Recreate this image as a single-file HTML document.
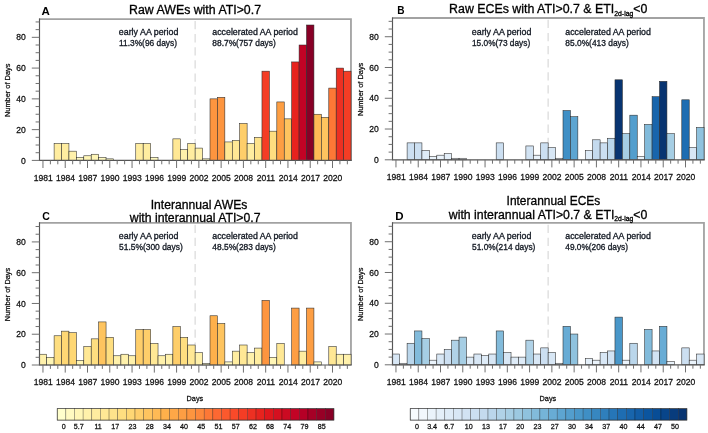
<!DOCTYPE html>
<html lang="en"><head><meta charset="utf-8"><title>AWEs and ECEs per year</title>
<style>
html,body{margin:0;padding:0;background:#fff}
svg{display:block;font-family:"Liberation Sans", sans-serif}
.tk{fill:#111;stroke:#111;stroke-width:.26px}
.tt{fill:#000;stroke:#000;stroke-width:.3px}
.an{font-size:8.7px;fill:#141a24;stroke:#141a24;stroke-width:.32px}
</style></head><body>
<svg width="708" height="433" viewBox="0 0 708 433">
<rect width="708" height="433" fill="#fff"/>
<line x1="195.15" y1="21.00" x2="195.15" y2="160.40" stroke="#dcdcdc" stroke-width="1.3" stroke-dasharray="8.3 4.8"/>
<path d="M39.00 19.20H350.96V160.40" fill="none" stroke="#a2a2a2" stroke-width="1.8" stroke-linejoin="miter"/>
<rect x="54.10" y="143.48" width="7.42" height="16.92" fill="#ffeda0" stroke="#2a2a2a" stroke-width="0.55"/>
<rect x="61.52" y="143.48" width="7.42" height="16.92" fill="#ffeda0" stroke="#2a2a2a" stroke-width="0.55"/>
<rect x="68.95" y="151.17" width="7.42" height="9.23" fill="#fff1ab" stroke="#2a2a2a" stroke-width="0.55"/>
<rect x="76.37" y="157.32" width="7.42" height="3.08" fill="#fffac1" stroke="#2a2a2a" stroke-width="0.55"/>
<rect x="83.79" y="155.78" width="7.42" height="4.62" fill="#fff6b6" stroke="#2a2a2a" stroke-width="0.55"/>
<rect x="91.22" y="154.25" width="7.42" height="6.15" fill="#fff6b6" stroke="#2a2a2a" stroke-width="0.55"/>
<rect x="98.64" y="157.32" width="7.42" height="3.08" fill="#fffac1" stroke="#2a2a2a" stroke-width="0.55"/>
<rect x="106.07" y="158.86" width="7.42" height="1.54" fill="#fffac1" stroke="#2a2a2a" stroke-width="0.55"/>
<rect x="135.76" y="143.48" width="7.42" height="16.92" fill="#ffeda0" stroke="#2a2a2a" stroke-width="0.55"/>
<rect x="143.19" y="143.48" width="7.42" height="16.92" fill="#ffeda0" stroke="#2a2a2a" stroke-width="0.55"/>
<rect x="150.61" y="157.32" width="7.42" height="3.08" fill="#fffac1" stroke="#2a2a2a" stroke-width="0.55"/>
<rect x="172.88" y="138.86" width="7.42" height="21.54" fill="#ffe895" stroke="#2a2a2a" stroke-width="0.55"/>
<rect x="180.31" y="149.63" width="7.42" height="10.77" fill="#fff1ab" stroke="#2a2a2a" stroke-width="0.55"/>
<rect x="187.73" y="143.48" width="7.42" height="16.92" fill="#ffeda0" stroke="#2a2a2a" stroke-width="0.55"/>
<rect x="195.15" y="148.09" width="7.42" height="12.31" fill="#fff1ab" stroke="#2a2a2a" stroke-width="0.55"/>
<rect x="202.58" y="158.86" width="7.42" height="1.54" fill="#fffac1" stroke="#2a2a2a" stroke-width="0.55"/>
<rect x="210.00" y="98.86" width="7.42" height="61.54" fill="#fd953f" stroke="#2a2a2a" stroke-width="0.55"/>
<rect x="217.43" y="97.32" width="7.42" height="63.08" fill="#fd953f" stroke="#2a2a2a" stroke-width="0.55"/>
<rect x="224.85" y="141.94" width="7.42" height="18.46" fill="#ffe895" stroke="#2a2a2a" stroke-width="0.55"/>
<rect x="232.27" y="140.40" width="7.42" height="20.00" fill="#ffe895" stroke="#2a2a2a" stroke-width="0.55"/>
<rect x="239.70" y="123.48" width="7.42" height="36.92" fill="#fece6a" stroke="#2a2a2a" stroke-width="0.55"/>
<rect x="247.12" y="143.48" width="7.42" height="16.92" fill="#ffeda0" stroke="#2a2a2a" stroke-width="0.55"/>
<rect x="254.55" y="137.32" width="7.42" height="23.08" fill="#fee38b" stroke="#2a2a2a" stroke-width="0.55"/>
<rect x="261.97" y="71.17" width="7.42" height="89.23" fill="#f43d25" stroke="#2a2a2a" stroke-width="0.55"/>
<rect x="269.39" y="131.17" width="7.42" height="29.23" fill="#fede80" stroke="#2a2a2a" stroke-width="0.55"/>
<rect x="276.82" y="101.94" width="7.42" height="58.46" fill="#fd9e43" stroke="#2a2a2a" stroke-width="0.55"/>
<rect x="284.24" y="118.86" width="7.42" height="41.54" fill="#fec45f" stroke="#2a2a2a" stroke-width="0.55"/>
<rect x="291.67" y="61.94" width="7.42" height="98.46" fill="#e7231e" stroke="#2a2a2a" stroke-width="0.55"/>
<rect x="299.09" y="45.01" width="7.42" height="115.39" fill="#c20325" stroke="#2a2a2a" stroke-width="0.55"/>
<rect x="306.51" y="25.01" width="7.42" height="135.39" fill="#880026" stroke="#2a2a2a" stroke-width="0.55"/>
<rect x="313.94" y="114.25" width="7.42" height="46.16" fill="#feba55" stroke="#2a2a2a" stroke-width="0.55"/>
<rect x="321.36" y="117.32" width="7.42" height="43.08" fill="#fec45f" stroke="#2a2a2a" stroke-width="0.55"/>
<rect x="328.79" y="88.09" width="7.42" height="72.31" fill="#fd7836" stroke="#2a2a2a" stroke-width="0.55"/>
<rect x="336.21" y="68.09" width="7.42" height="92.31" fill="#ed3022" stroke="#2a2a2a" stroke-width="0.55"/>
<rect x="343.63" y="71.17" width="7.42" height="89.23" fill="#f43d25" stroke="#2a2a2a" stroke-width="0.55"/>
<path d="M39.50 18.60V160.40H351.76" fill="none" stroke="#555" stroke-width="1.15"/>
<path d="M39.50 160.40h-7.7 M39.50 152.71h-3.9 M39.50 145.02h-3.9 M39.50 137.32h-3.9 M39.50 129.63h-7.7 M39.50 121.94h-3.9 M39.50 114.25h-3.9 M39.50 106.55h-3.9 M39.50 98.86h-7.7 M39.50 91.17h-3.9 M39.50 83.48h-3.9 M39.50 75.78h-3.9 M39.50 68.09h-7.7 M39.50 60.40h-3.9 M39.50 52.71h-3.9 M39.50 45.01h-3.9 M39.50 37.32h-7.7 M39.50 29.63h-3.9 M39.50 21.94h-3.9 M42.96 160.40v7.6 M50.39 160.40v3.9 M57.81 160.40v3.9 M65.23 160.40v7.6 M72.66 160.40v3.9 M80.08 160.40v3.9 M87.51 160.40v7.6 M94.93 160.40v3.9 M102.35 160.40v3.9 M109.78 160.40v7.6 M117.20 160.40v3.9 M124.63 160.40v3.9 M132.05 160.40v7.6 M139.47 160.40v3.9 M146.90 160.40v3.9 M154.32 160.40v7.6 M161.75 160.40v3.9 M169.17 160.40v3.9 M176.59 160.40v7.6 M184.02 160.40v3.9 M191.44 160.40v3.9 M198.87 160.40v7.6 M206.29 160.40v3.9 M213.71 160.40v3.9 M221.14 160.40v7.6 M228.56 160.40v3.9 M235.99 160.40v3.9 M243.41 160.40v7.6 M250.83 160.40v3.9 M258.26 160.40v3.9 M265.68 160.40v7.6 M273.11 160.40v3.9 M280.53 160.40v3.9 M287.95 160.40v7.6 M295.38 160.40v3.9 M302.80 160.40v3.9 M310.23 160.40v7.6 M317.65 160.40v3.9 M325.07 160.40v3.9 M332.50 160.40v7.6 M339.92 160.40v3.9 M347.35 160.40v3.9" stroke="#707070" stroke-width="1" fill="none"/>
<text class="tk" x="25.80" y="163.50" font-size="8.55" text-anchor="end">0</text>
<text class="tk" x="25.80" y="132.73" font-size="8.55" text-anchor="end">20</text>
<text class="tk" x="25.80" y="101.96" font-size="8.55" text-anchor="end">40</text>
<text class="tk" x="25.80" y="71.19" font-size="8.55" text-anchor="end">60</text>
<text class="tk" x="25.80" y="40.42" font-size="8.55" text-anchor="end">80</text>
<text class="tk" x="43.16" y="180.70" font-size="8.55" text-anchor="middle">1981</text>
<text class="tk" x="65.43" y="180.70" font-size="8.55" text-anchor="middle">1984</text>
<text class="tk" x="87.71" y="180.70" font-size="8.55" text-anchor="middle">1987</text>
<text class="tk" x="109.98" y="180.70" font-size="8.55" text-anchor="middle">1990</text>
<text class="tk" x="132.25" y="180.70" font-size="8.55" text-anchor="middle">1993</text>
<text class="tk" x="154.52" y="180.70" font-size="8.55" text-anchor="middle">1996</text>
<text class="tk" x="176.79" y="180.70" font-size="8.55" text-anchor="middle">1999</text>
<text class="tk" x="199.07" y="180.70" font-size="8.55" text-anchor="middle">2002</text>
<text class="tk" x="221.34" y="180.70" font-size="8.55" text-anchor="middle">2005</text>
<text class="tk" x="243.61" y="180.70" font-size="8.55" text-anchor="middle">2008</text>
<text class="tk" x="265.88" y="180.70" font-size="8.55" text-anchor="middle">2011</text>
<text class="tk" x="288.15" y="180.70" font-size="8.55" text-anchor="middle">2014</text>
<text class="tk" x="310.43" y="180.70" font-size="8.55" text-anchor="middle">2017</text>
<text class="tk" x="332.70" y="180.70" font-size="8.55" text-anchor="middle">2020</text>
<text class="tk" transform="translate(10.10 90.30) rotate(-90)" font-size="7.5" text-anchor="middle" textLength="53.4" lengthAdjust="spacingAndGlyphs">Number of Days</text>
<text x="41.6" y="14.7" font-size="11.5" font-weight="bold" fill="#000">A</text>
<text class="tt" x="129.10" y="14.1" font-size="12.3" textLength="131.9" lengthAdjust="spacingAndGlyphs">Raw AWEs with ATI&gt;0.7</text>
<text class="an" x="118.80" y="34.9" textLength="59.6" lengthAdjust="spacingAndGlyphs">early AA period</text>
<text class="an" x="119.00" y="46.0" textLength="58.0" lengthAdjust="spacingAndGlyphs">11.3%(96 days)</text>
<text class="an" x="212.30" y="34.9" textLength="85.6" lengthAdjust="spacingAndGlyphs">accelerated AA period</text>
<text class="an" x="212.30" y="46.0" textLength="63.5" lengthAdjust="spacingAndGlyphs">88.7%(757 days)</text>
<line x1="548.15" y1="19.80" x2="548.15" y2="159.80" stroke="#dcdcdc" stroke-width="1.3" stroke-dasharray="8.3 4.8"/>
<path d="M392.00 18.00H703.96V159.80" fill="none" stroke="#a2a2a2" stroke-width="1.8" stroke-linejoin="miter"/>
<rect x="407.10" y="142.88" width="7.42" height="16.92" fill="#ccdff1" stroke="#2a2a2a" stroke-width="0.55"/>
<rect x="414.52" y="142.88" width="7.42" height="16.92" fill="#ccdff1" stroke="#2a2a2a" stroke-width="0.55"/>
<rect x="421.95" y="150.57" width="7.42" height="9.23" fill="#deebf7" stroke="#2a2a2a" stroke-width="0.55"/>
<rect x="429.37" y="156.72" width="7.42" height="3.08" fill="#eaf3fb" stroke="#2a2a2a" stroke-width="0.55"/>
<rect x="436.79" y="155.18" width="7.42" height="4.62" fill="#eaf3fb" stroke="#2a2a2a" stroke-width="0.55"/>
<rect x="444.22" y="153.65" width="7.42" height="6.15" fill="#e4eff9" stroke="#2a2a2a" stroke-width="0.55"/>
<rect x="451.64" y="158.26" width="7.42" height="1.54" fill="#f1f7fd" stroke="#2a2a2a" stroke-width="0.55"/>
<rect x="459.07" y="158.26" width="7.42" height="1.54" fill="#f1f7fd" stroke="#2a2a2a" stroke-width="0.55"/>
<rect x="496.19" y="142.88" width="7.42" height="16.92" fill="#ccdff1" stroke="#2a2a2a" stroke-width="0.55"/>
<rect x="525.88" y="145.95" width="7.42" height="13.85" fill="#d2e3f3" stroke="#2a2a2a" stroke-width="0.55"/>
<rect x="533.31" y="155.18" width="7.42" height="4.62" fill="#eaf3fb" stroke="#2a2a2a" stroke-width="0.55"/>
<rect x="540.73" y="142.88" width="7.42" height="16.92" fill="#ccdff1" stroke="#2a2a2a" stroke-width="0.55"/>
<rect x="548.15" y="147.49" width="7.42" height="12.31" fill="#d8e7f5" stroke="#2a2a2a" stroke-width="0.55"/>
<rect x="555.58" y="158.26" width="7.42" height="1.54" fill="#f1f7fd" stroke="#2a2a2a" stroke-width="0.55"/>
<rect x="563.00" y="110.57" width="7.42" height="49.23" fill="#3f8fc5" stroke="#2a2a2a" stroke-width="0.55"/>
<rect x="570.43" y="116.72" width="7.42" height="43.08" fill="#5da5d1" stroke="#2a2a2a" stroke-width="0.55"/>
<rect x="585.27" y="150.57" width="7.42" height="9.23" fill="#deebf7" stroke="#2a2a2a" stroke-width="0.55"/>
<rect x="592.70" y="139.80" width="7.42" height="20.00" fill="#c4daee" stroke="#2a2a2a" stroke-width="0.55"/>
<rect x="600.12" y="142.88" width="7.42" height="16.92" fill="#ccdff1" stroke="#2a2a2a" stroke-width="0.55"/>
<rect x="607.55" y="138.26" width="7.42" height="21.54" fill="#bad6eb" stroke="#2a2a2a" stroke-width="0.55"/>
<rect x="614.97" y="79.80" width="7.42" height="80.00" fill="#083471" stroke="#2a2a2a" stroke-width="0.55"/>
<rect x="622.39" y="133.65" width="7.42" height="26.15" fill="#a6cee4" stroke="#2a2a2a" stroke-width="0.55"/>
<rect x="629.82" y="115.18" width="7.42" height="44.62" fill="#539ecd" stroke="#2a2a2a" stroke-width="0.55"/>
<rect x="637.24" y="156.72" width="7.42" height="3.08" fill="#eaf3fb" stroke="#2a2a2a" stroke-width="0.55"/>
<rect x="644.67" y="124.41" width="7.42" height="35.39" fill="#82bbdb" stroke="#2a2a2a" stroke-width="0.55"/>
<rect x="652.09" y="96.72" width="7.42" height="63.08" fill="#1865ac" stroke="#2a2a2a" stroke-width="0.55"/>
<rect x="659.51" y="81.34" width="7.42" height="78.46" fill="#083471" stroke="#2a2a2a" stroke-width="0.55"/>
<rect x="666.94" y="133.65" width="7.42" height="26.15" fill="#a6cee4" stroke="#2a2a2a" stroke-width="0.55"/>
<rect x="681.79" y="99.80" width="7.42" height="60.00" fill="#1e6db2" stroke="#2a2a2a" stroke-width="0.55"/>
<rect x="689.21" y="147.49" width="7.42" height="12.31" fill="#d8e7f5" stroke="#2a2a2a" stroke-width="0.55"/>
<rect x="696.63" y="127.49" width="7.42" height="32.31" fill="#8fc2de" stroke="#2a2a2a" stroke-width="0.55"/>
<path d="M392.50 17.40V159.80H704.76" fill="none" stroke="#555" stroke-width="1.15"/>
<path d="M392.50 159.80h-7.7 M392.50 152.11h-3.9 M392.50 144.42h-3.9 M392.50 136.72h-3.9 M392.50 129.03h-7.7 M392.50 121.34h-3.9 M392.50 113.65h-3.9 M392.50 105.95h-3.9 M392.50 98.26h-7.7 M392.50 90.57h-3.9 M392.50 82.88h-3.9 M392.50 75.18h-3.9 M392.50 67.49h-7.7 M392.50 59.80h-3.9 M392.50 52.11h-3.9 M392.50 44.41h-3.9 M392.50 36.72h-7.7 M392.50 29.03h-3.9 M392.50 21.34h-3.9 M395.96 159.80v7.6 M403.39 159.80v3.9 M410.81 159.80v3.9 M418.23 159.80v7.6 M425.66 159.80v3.9 M433.08 159.80v3.9 M440.51 159.80v7.6 M447.93 159.80v3.9 M455.35 159.80v3.9 M462.78 159.80v7.6 M470.20 159.80v3.9 M477.63 159.80v3.9 M485.05 159.80v7.6 M492.47 159.80v3.9 M499.90 159.80v3.9 M507.32 159.80v7.6 M514.75 159.80v3.9 M522.17 159.80v3.9 M529.59 159.80v7.6 M537.02 159.80v3.9 M544.44 159.80v3.9 M551.87 159.80v7.6 M559.29 159.80v3.9 M566.71 159.80v3.9 M574.14 159.80v7.6 M581.56 159.80v3.9 M588.99 159.80v3.9 M596.41 159.80v7.6 M603.83 159.80v3.9 M611.26 159.80v3.9 M618.68 159.80v7.6 M626.11 159.80v3.9 M633.53 159.80v3.9 M640.95 159.80v7.6 M648.38 159.80v3.9 M655.80 159.80v3.9 M663.23 159.80v7.6 M670.65 159.80v3.9 M678.07 159.80v3.9 M685.50 159.80v7.6 M692.92 159.80v3.9 M700.35 159.80v3.9" stroke="#707070" stroke-width="1" fill="none"/>
<text class="tk" x="378.80" y="162.90" font-size="8.55" text-anchor="end">0</text>
<text class="tk" x="378.80" y="132.13" font-size="8.55" text-anchor="end">20</text>
<text class="tk" x="378.80" y="101.36" font-size="8.55" text-anchor="end">40</text>
<text class="tk" x="378.80" y="70.59" font-size="8.55" text-anchor="end">60</text>
<text class="tk" x="378.80" y="39.82" font-size="8.55" text-anchor="end">80</text>
<text class="tk" x="396.16" y="180.10" font-size="8.55" text-anchor="middle">1981</text>
<text class="tk" x="418.43" y="180.10" font-size="8.55" text-anchor="middle">1984</text>
<text class="tk" x="440.71" y="180.10" font-size="8.55" text-anchor="middle">1987</text>
<text class="tk" x="462.98" y="180.10" font-size="8.55" text-anchor="middle">1990</text>
<text class="tk" x="485.25" y="180.10" font-size="8.55" text-anchor="middle">1993</text>
<text class="tk" x="507.52" y="180.10" font-size="8.55" text-anchor="middle">1996</text>
<text class="tk" x="529.79" y="180.10" font-size="8.55" text-anchor="middle">1999</text>
<text class="tk" x="552.07" y="180.10" font-size="8.55" text-anchor="middle">2002</text>
<text class="tk" x="574.34" y="180.10" font-size="8.55" text-anchor="middle">2005</text>
<text class="tk" x="596.61" y="180.10" font-size="8.55" text-anchor="middle">2008</text>
<text class="tk" x="618.88" y="180.10" font-size="8.55" text-anchor="middle">2011</text>
<text class="tk" x="641.15" y="180.10" font-size="8.55" text-anchor="middle">2014</text>
<text class="tk" x="663.43" y="180.10" font-size="8.55" text-anchor="middle">2017</text>
<text class="tk" x="685.70" y="180.10" font-size="8.55" text-anchor="middle">2020</text>
<text class="tk" transform="translate(363.10 89.40) rotate(-90)" font-size="7.5" text-anchor="middle" textLength="53.4" lengthAdjust="spacingAndGlyphs">Number of Days</text>
<text x="397.3" y="14.4" font-size="11.5" font-weight="bold" fill="#000" textLength="7.3" lengthAdjust="spacingAndGlyphs">B</text>
<text class="tt" x="449.10" y="13.2" font-size="12.3" textLength="198.3" lengthAdjust="spacingAndGlyphs">Raw ECEs with ATI&gt;0.7 &amp; ETI<tspan font-size="6.8" dy="2.4">2d-lag</tspan><tspan dy="-2.4">&lt;0</tspan></text>
<text class="an" x="471.80" y="34.9" textLength="59.6" lengthAdjust="spacingAndGlyphs">early AA period</text>
<text class="an" x="472.00" y="46.0" textLength="58.2" lengthAdjust="spacingAndGlyphs">15.0%(73 days)</text>
<text class="an" x="565.30" y="34.9" textLength="85.6" lengthAdjust="spacingAndGlyphs">accelerated AA period</text>
<text class="an" x="565.30" y="46.0" textLength="63.5" lengthAdjust="spacingAndGlyphs">85.0%(413 days)</text>
<line x1="195.15" y1="224.70" x2="195.15" y2="365.00" stroke="#dcdcdc" stroke-width="1.3" stroke-dasharray="8.3 4.8"/>
<path d="M39.00 222.90H350.96V365.00" fill="none" stroke="#a2a2a2" stroke-width="1.8" stroke-linejoin="miter"/>
<rect x="39.25" y="354.23" width="7.42" height="10.77" fill="#fff1ab" stroke="#2a2a2a" stroke-width="0.55"/>
<rect x="46.67" y="357.31" width="7.42" height="7.69" fill="#fff6b6" stroke="#2a2a2a" stroke-width="0.55"/>
<rect x="54.10" y="335.77" width="7.42" height="29.23" fill="#fede80" stroke="#2a2a2a" stroke-width="0.55"/>
<rect x="61.52" y="331.15" width="7.42" height="33.85" fill="#fed774" stroke="#2a2a2a" stroke-width="0.55"/>
<rect x="68.95" y="332.69" width="7.42" height="32.31" fill="#fed774" stroke="#2a2a2a" stroke-width="0.55"/>
<rect x="76.37" y="360.38" width="7.42" height="4.62" fill="#fff6b6" stroke="#2a2a2a" stroke-width="0.55"/>
<rect x="83.79" y="346.54" width="7.42" height="18.46" fill="#ffe895" stroke="#2a2a2a" stroke-width="0.55"/>
<rect x="91.22" y="338.85" width="7.42" height="26.15" fill="#fede80" stroke="#2a2a2a" stroke-width="0.55"/>
<rect x="98.64" y="321.92" width="7.42" height="43.08" fill="#fec45f" stroke="#2a2a2a" stroke-width="0.55"/>
<rect x="106.07" y="337.31" width="7.42" height="27.69" fill="#fede80" stroke="#2a2a2a" stroke-width="0.55"/>
<rect x="113.49" y="355.77" width="7.42" height="9.23" fill="#fff1ab" stroke="#2a2a2a" stroke-width="0.55"/>
<rect x="120.91" y="354.23" width="7.42" height="10.77" fill="#fff1ab" stroke="#2a2a2a" stroke-width="0.55"/>
<rect x="128.34" y="355.77" width="7.42" height="9.23" fill="#fff1ab" stroke="#2a2a2a" stroke-width="0.55"/>
<rect x="135.76" y="329.61" width="7.42" height="35.39" fill="#fece6a" stroke="#2a2a2a" stroke-width="0.55"/>
<rect x="143.19" y="329.61" width="7.42" height="35.39" fill="#fece6a" stroke="#2a2a2a" stroke-width="0.55"/>
<rect x="150.61" y="343.46" width="7.42" height="21.54" fill="#ffe895" stroke="#2a2a2a" stroke-width="0.55"/>
<rect x="158.03" y="355.77" width="7.42" height="9.23" fill="#fff1ab" stroke="#2a2a2a" stroke-width="0.55"/>
<rect x="165.46" y="354.23" width="7.42" height="10.77" fill="#fff1ab" stroke="#2a2a2a" stroke-width="0.55"/>
<rect x="172.88" y="326.54" width="7.42" height="38.46" fill="#fece6a" stroke="#2a2a2a" stroke-width="0.55"/>
<rect x="180.31" y="337.31" width="7.42" height="27.69" fill="#fede80" stroke="#2a2a2a" stroke-width="0.55"/>
<rect x="187.73" y="345.00" width="7.42" height="20.00" fill="#ffe895" stroke="#2a2a2a" stroke-width="0.55"/>
<rect x="195.15" y="352.69" width="7.42" height="12.31" fill="#fff1ab" stroke="#2a2a2a" stroke-width="0.55"/>
<rect x="202.58" y="363.46" width="7.42" height="1.54" fill="#fffac1" stroke="#2a2a2a" stroke-width="0.55"/>
<rect x="210.00" y="315.77" width="7.42" height="49.23" fill="#feb04b" stroke="#2a2a2a" stroke-width="0.55"/>
<rect x="217.43" y="323.46" width="7.42" height="41.54" fill="#fec45f" stroke="#2a2a2a" stroke-width="0.55"/>
<rect x="224.85" y="361.92" width="7.42" height="3.08" fill="#fffac1" stroke="#2a2a2a" stroke-width="0.55"/>
<rect x="232.27" y="351.15" width="7.42" height="13.85" fill="#ffeda0" stroke="#2a2a2a" stroke-width="0.55"/>
<rect x="239.70" y="345.00" width="7.42" height="20.00" fill="#ffe895" stroke="#2a2a2a" stroke-width="0.55"/>
<rect x="247.12" y="352.69" width="7.42" height="12.31" fill="#fff1ab" stroke="#2a2a2a" stroke-width="0.55"/>
<rect x="254.55" y="348.08" width="7.42" height="16.92" fill="#ffeda0" stroke="#2a2a2a" stroke-width="0.55"/>
<rect x="261.97" y="300.38" width="7.42" height="64.62" fill="#fd953f" stroke="#2a2a2a" stroke-width="0.55"/>
<rect x="269.39" y="357.31" width="7.42" height="7.69" fill="#fff6b6" stroke="#2a2a2a" stroke-width="0.55"/>
<rect x="276.82" y="343.46" width="7.42" height="21.54" fill="#ffe895" stroke="#2a2a2a" stroke-width="0.55"/>
<rect x="291.67" y="308.08" width="7.42" height="56.92" fill="#fd9e43" stroke="#2a2a2a" stroke-width="0.55"/>
<rect x="299.09" y="351.15" width="7.42" height="13.85" fill="#ffeda0" stroke="#2a2a2a" stroke-width="0.55"/>
<rect x="306.51" y="308.08" width="7.42" height="56.92" fill="#fd9e43" stroke="#2a2a2a" stroke-width="0.55"/>
<rect x="313.94" y="361.92" width="7.42" height="3.08" fill="#fffac1" stroke="#2a2a2a" stroke-width="0.55"/>
<rect x="328.79" y="346.54" width="7.42" height="18.46" fill="#ffe895" stroke="#2a2a2a" stroke-width="0.55"/>
<rect x="336.21" y="354.23" width="7.42" height="10.77" fill="#fff1ab" stroke="#2a2a2a" stroke-width="0.55"/>
<rect x="343.63" y="354.23" width="7.42" height="10.77" fill="#fff1ab" stroke="#2a2a2a" stroke-width="0.55"/>
<path d="M39.50 222.30V365.00H351.76" fill="none" stroke="#555" stroke-width="1.15"/>
<path d="M39.50 365.00h-7.7 M39.50 357.31h-3.9 M39.50 349.62h-3.9 M39.50 341.92h-3.9 M39.50 334.23h-7.7 M39.50 326.54h-3.9 M39.50 318.85h-3.9 M39.50 311.15h-3.9 M39.50 303.46h-7.7 M39.50 295.77h-3.9 M39.50 288.07h-3.9 M39.50 280.38h-3.9 M39.50 272.69h-7.7 M39.50 265.00h-3.9 M39.50 257.31h-3.9 M39.50 249.61h-3.9 M39.50 241.92h-7.7 M39.50 234.23h-3.9 M39.50 226.53h-3.9 M42.96 365.00v7.6 M50.39 365.00v3.9 M57.81 365.00v3.9 M65.23 365.00v7.6 M72.66 365.00v3.9 M80.08 365.00v3.9 M87.51 365.00v7.6 M94.93 365.00v3.9 M102.35 365.00v3.9 M109.78 365.00v7.6 M117.20 365.00v3.9 M124.63 365.00v3.9 M132.05 365.00v7.6 M139.47 365.00v3.9 M146.90 365.00v3.9 M154.32 365.00v7.6 M161.75 365.00v3.9 M169.17 365.00v3.9 M176.59 365.00v7.6 M184.02 365.00v3.9 M191.44 365.00v3.9 M198.87 365.00v7.6 M206.29 365.00v3.9 M213.71 365.00v3.9 M221.14 365.00v7.6 M228.56 365.00v3.9 M235.99 365.00v3.9 M243.41 365.00v7.6 M250.83 365.00v3.9 M258.26 365.00v3.9 M265.68 365.00v7.6 M273.11 365.00v3.9 M280.53 365.00v3.9 M287.95 365.00v7.6 M295.38 365.00v3.9 M302.80 365.00v3.9 M310.23 365.00v7.6 M317.65 365.00v3.9 M325.07 365.00v3.9 M332.50 365.00v7.6 M339.92 365.00v3.9 M347.35 365.00v3.9" stroke="#707070" stroke-width="1" fill="none"/>
<text class="tk" x="25.80" y="368.10" font-size="8.55" text-anchor="end">0</text>
<text class="tk" x="25.80" y="337.33" font-size="8.55" text-anchor="end">20</text>
<text class="tk" x="25.80" y="306.56" font-size="8.55" text-anchor="end">40</text>
<text class="tk" x="25.80" y="275.79" font-size="8.55" text-anchor="end">60</text>
<text class="tk" x="25.80" y="245.02" font-size="8.55" text-anchor="end">80</text>
<text class="tk" x="43.16" y="385.30" font-size="8.55" text-anchor="middle">1981</text>
<text class="tk" x="65.43" y="385.30" font-size="8.55" text-anchor="middle">1984</text>
<text class="tk" x="87.71" y="385.30" font-size="8.55" text-anchor="middle">1987</text>
<text class="tk" x="109.98" y="385.30" font-size="8.55" text-anchor="middle">1990</text>
<text class="tk" x="132.25" y="385.30" font-size="8.55" text-anchor="middle">1993</text>
<text class="tk" x="154.52" y="385.30" font-size="8.55" text-anchor="middle">1996</text>
<text class="tk" x="176.79" y="385.30" font-size="8.55" text-anchor="middle">1999</text>
<text class="tk" x="199.07" y="385.30" font-size="8.55" text-anchor="middle">2002</text>
<text class="tk" x="221.34" y="385.30" font-size="8.55" text-anchor="middle">2005</text>
<text class="tk" x="243.61" y="385.30" font-size="8.55" text-anchor="middle">2008</text>
<text class="tk" x="265.88" y="385.30" font-size="8.55" text-anchor="middle">2011</text>
<text class="tk" x="288.15" y="385.30" font-size="8.55" text-anchor="middle">2014</text>
<text class="tk" x="310.43" y="385.30" font-size="8.55" text-anchor="middle">2017</text>
<text class="tk" x="332.70" y="385.30" font-size="8.55" text-anchor="middle">2020</text>
<text class="tk" transform="translate(10.10 294.45) rotate(-90)" font-size="7.5" text-anchor="middle" textLength="53.4" lengthAdjust="spacingAndGlyphs">Number of Days</text>
<text x="42.2" y="220.2" font-size="11.5" font-weight="bold" fill="#000" textLength="7.6" lengthAdjust="spacingAndGlyphs">C</text>
<text class="tt" x="150.70" y="209.1" font-size="12.3" textLength="96.6" lengthAdjust="spacingAndGlyphs">Interannual AWEs</text>
<text class="tt" x="129.80" y="222.4" font-size="12.3" textLength="130.7" lengthAdjust="spacingAndGlyphs">with interannual ATI&gt;0.7</text>
<text class="an" x="118.80" y="239.2" textLength="59.6" lengthAdjust="spacingAndGlyphs">early AA period</text>
<text class="an" x="119.00" y="250.1" textLength="63.8" lengthAdjust="spacingAndGlyphs">51.5%(300 days)</text>
<text class="an" x="212.30" y="239.2" textLength="85.6" lengthAdjust="spacingAndGlyphs">accelerated AA period</text>
<text class="an" x="212.30" y="250.1" textLength="63.5" lengthAdjust="spacingAndGlyphs">48.5%(283 days)</text>
<text class="tk" x="194.88" y="400.80" font-size="7.3" text-anchor="middle">Days</text>
<line x1="548.15" y1="224.70" x2="548.15" y2="364.80" stroke="#dcdcdc" stroke-width="1.3" stroke-dasharray="8.3 4.8"/>
<path d="M392.00 222.90H703.96V364.80" fill="none" stroke="#a2a2a2" stroke-width="1.8" stroke-linejoin="miter"/>
<rect x="392.25" y="354.03" width="7.42" height="10.77" fill="#d8e7f5" stroke="#2a2a2a" stroke-width="0.55"/>
<rect x="399.67" y="363.26" width="7.42" height="1.54" fill="#f1f7fd" stroke="#2a2a2a" stroke-width="0.55"/>
<rect x="407.10" y="343.26" width="7.42" height="21.54" fill="#bad6eb" stroke="#2a2a2a" stroke-width="0.55"/>
<rect x="414.52" y="330.95" width="7.42" height="33.85" fill="#82bbdb" stroke="#2a2a2a" stroke-width="0.55"/>
<rect x="421.95" y="338.65" width="7.42" height="26.15" fill="#a6cee4" stroke="#2a2a2a" stroke-width="0.55"/>
<rect x="429.37" y="360.18" width="7.42" height="4.62" fill="#eaf3fb" stroke="#2a2a2a" stroke-width="0.55"/>
<rect x="436.79" y="354.03" width="7.42" height="10.77" fill="#d8e7f5" stroke="#2a2a2a" stroke-width="0.55"/>
<rect x="444.22" y="349.42" width="7.42" height="15.38" fill="#ccdff1" stroke="#2a2a2a" stroke-width="0.55"/>
<rect x="451.64" y="340.18" width="7.42" height="24.62" fill="#b0d2e7" stroke="#2a2a2a" stroke-width="0.55"/>
<rect x="459.07" y="337.11" width="7.42" height="27.69" fill="#a6cee4" stroke="#2a2a2a" stroke-width="0.55"/>
<rect x="466.49" y="357.11" width="7.42" height="7.69" fill="#deebf7" stroke="#2a2a2a" stroke-width="0.55"/>
<rect x="473.91" y="354.03" width="7.42" height="10.77" fill="#d8e7f5" stroke="#2a2a2a" stroke-width="0.55"/>
<rect x="481.34" y="355.57" width="7.42" height="9.23" fill="#deebf7" stroke="#2a2a2a" stroke-width="0.55"/>
<rect x="488.76" y="354.03" width="7.42" height="10.77" fill="#d8e7f5" stroke="#2a2a2a" stroke-width="0.55"/>
<rect x="496.19" y="330.95" width="7.42" height="33.85" fill="#82bbdb" stroke="#2a2a2a" stroke-width="0.55"/>
<rect x="503.61" y="352.49" width="7.42" height="12.31" fill="#d8e7f5" stroke="#2a2a2a" stroke-width="0.55"/>
<rect x="511.03" y="357.11" width="7.42" height="7.69" fill="#deebf7" stroke="#2a2a2a" stroke-width="0.55"/>
<rect x="518.46" y="357.11" width="7.42" height="7.69" fill="#deebf7" stroke="#2a2a2a" stroke-width="0.55"/>
<rect x="525.88" y="340.18" width="7.42" height="24.62" fill="#b0d2e7" stroke="#2a2a2a" stroke-width="0.55"/>
<rect x="533.31" y="354.03" width="7.42" height="10.77" fill="#d8e7f5" stroke="#2a2a2a" stroke-width="0.55"/>
<rect x="540.73" y="347.88" width="7.42" height="16.92" fill="#ccdff1" stroke="#2a2a2a" stroke-width="0.55"/>
<rect x="548.15" y="352.49" width="7.42" height="12.31" fill="#d8e7f5" stroke="#2a2a2a" stroke-width="0.55"/>
<rect x="555.58" y="363.26" width="7.42" height="1.54" fill="#f1f7fd" stroke="#2a2a2a" stroke-width="0.55"/>
<rect x="563.00" y="326.34" width="7.42" height="38.46" fill="#68acd5" stroke="#2a2a2a" stroke-width="0.55"/>
<rect x="570.43" y="334.03" width="7.42" height="30.77" fill="#8fc2de" stroke="#2a2a2a" stroke-width="0.55"/>
<rect x="585.27" y="358.65" width="7.42" height="6.15" fill="#e4eff9" stroke="#2a2a2a" stroke-width="0.55"/>
<rect x="592.70" y="360.18" width="7.42" height="4.62" fill="#eaf3fb" stroke="#2a2a2a" stroke-width="0.55"/>
<rect x="600.12" y="352.49" width="7.42" height="12.31" fill="#d8e7f5" stroke="#2a2a2a" stroke-width="0.55"/>
<rect x="607.55" y="350.95" width="7.42" height="13.85" fill="#d2e3f3" stroke="#2a2a2a" stroke-width="0.55"/>
<rect x="614.97" y="317.11" width="7.42" height="47.69" fill="#4997c9" stroke="#2a2a2a" stroke-width="0.55"/>
<rect x="622.39" y="360.18" width="7.42" height="4.62" fill="#eaf3fb" stroke="#2a2a2a" stroke-width="0.55"/>
<rect x="629.82" y="343.26" width="7.42" height="21.54" fill="#bad6eb" stroke="#2a2a2a" stroke-width="0.55"/>
<rect x="644.67" y="329.41" width="7.42" height="35.39" fill="#82bbdb" stroke="#2a2a2a" stroke-width="0.55"/>
<rect x="652.09" y="350.95" width="7.42" height="13.85" fill="#d2e3f3" stroke="#2a2a2a" stroke-width="0.55"/>
<rect x="659.51" y="326.34" width="7.42" height="38.46" fill="#68acd5" stroke="#2a2a2a" stroke-width="0.55"/>
<rect x="666.94" y="361.72" width="7.42" height="3.08" fill="#eaf3fb" stroke="#2a2a2a" stroke-width="0.55"/>
<rect x="681.79" y="347.88" width="7.42" height="16.92" fill="#ccdff1" stroke="#2a2a2a" stroke-width="0.55"/>
<rect x="689.21" y="360.18" width="7.42" height="4.62" fill="#eaf3fb" stroke="#2a2a2a" stroke-width="0.55"/>
<rect x="696.63" y="354.03" width="7.42" height="10.77" fill="#d8e7f5" stroke="#2a2a2a" stroke-width="0.55"/>
<path d="M392.50 222.30V364.80H704.76" fill="none" stroke="#555" stroke-width="1.15"/>
<path d="M392.50 364.80h-7.7 M392.50 357.11h-3.9 M392.50 349.42h-3.9 M392.50 341.72h-3.9 M392.50 334.03h-7.7 M392.50 326.34h-3.9 M392.50 318.64h-3.9 M392.50 310.95h-3.9 M392.50 303.26h-7.7 M392.50 295.57h-3.9 M392.50 287.88h-3.9 M392.50 280.18h-3.9 M392.50 272.49h-7.7 M392.50 264.80h-3.9 M392.50 257.11h-3.9 M392.50 249.41h-3.9 M392.50 241.72h-7.7 M392.50 234.03h-3.9 M392.50 226.34h-3.9 M395.96 364.80v7.6 M403.39 364.80v3.9 M410.81 364.80v3.9 M418.23 364.80v7.6 M425.66 364.80v3.9 M433.08 364.80v3.9 M440.51 364.80v7.6 M447.93 364.80v3.9 M455.35 364.80v3.9 M462.78 364.80v7.6 M470.20 364.80v3.9 M477.63 364.80v3.9 M485.05 364.80v7.6 M492.47 364.80v3.9 M499.90 364.80v3.9 M507.32 364.80v7.6 M514.75 364.80v3.9 M522.17 364.80v3.9 M529.59 364.80v7.6 M537.02 364.80v3.9 M544.44 364.80v3.9 M551.87 364.80v7.6 M559.29 364.80v3.9 M566.71 364.80v3.9 M574.14 364.80v7.6 M581.56 364.80v3.9 M588.99 364.80v3.9 M596.41 364.80v7.6 M603.83 364.80v3.9 M611.26 364.80v3.9 M618.68 364.80v7.6 M626.11 364.80v3.9 M633.53 364.80v3.9 M640.95 364.80v7.6 M648.38 364.80v3.9 M655.80 364.80v3.9 M663.23 364.80v7.6 M670.65 364.80v3.9 M678.07 364.80v3.9 M685.50 364.80v7.6 M692.92 364.80v3.9 M700.35 364.80v3.9" stroke="#707070" stroke-width="1" fill="none"/>
<text class="tk" x="378.80" y="367.90" font-size="8.55" text-anchor="end">0</text>
<text class="tk" x="378.80" y="337.13" font-size="8.55" text-anchor="end">20</text>
<text class="tk" x="378.80" y="306.36" font-size="8.55" text-anchor="end">40</text>
<text class="tk" x="378.80" y="275.59" font-size="8.55" text-anchor="end">60</text>
<text class="tk" x="378.80" y="244.82" font-size="8.55" text-anchor="end">80</text>
<text class="tk" x="396.16" y="385.10" font-size="8.55" text-anchor="middle">1981</text>
<text class="tk" x="418.43" y="385.10" font-size="8.55" text-anchor="middle">1984</text>
<text class="tk" x="440.71" y="385.10" font-size="8.55" text-anchor="middle">1987</text>
<text class="tk" x="462.98" y="385.10" font-size="8.55" text-anchor="middle">1990</text>
<text class="tk" x="485.25" y="385.10" font-size="8.55" text-anchor="middle">1993</text>
<text class="tk" x="507.52" y="385.10" font-size="8.55" text-anchor="middle">1996</text>
<text class="tk" x="529.79" y="385.10" font-size="8.55" text-anchor="middle">1999</text>
<text class="tk" x="552.07" y="385.10" font-size="8.55" text-anchor="middle">2002</text>
<text class="tk" x="574.34" y="385.10" font-size="8.55" text-anchor="middle">2005</text>
<text class="tk" x="596.61" y="385.10" font-size="8.55" text-anchor="middle">2008</text>
<text class="tk" x="618.88" y="385.10" font-size="8.55" text-anchor="middle">2011</text>
<text class="tk" x="641.15" y="385.10" font-size="8.55" text-anchor="middle">2014</text>
<text class="tk" x="663.43" y="385.10" font-size="8.55" text-anchor="middle">2017</text>
<text class="tk" x="685.70" y="385.10" font-size="8.55" text-anchor="middle">2020</text>
<text class="tk" transform="translate(363.10 294.35) rotate(-90)" font-size="7.5" text-anchor="middle" textLength="53.4" lengthAdjust="spacingAndGlyphs">Number of Days</text>
<text x="395.3" y="220.15" font-size="11.5" font-weight="bold" fill="#000">D</text>
<text class="tt" x="506.60" y="204.9" font-size="12.3" textLength="93.6" lengthAdjust="spacingAndGlyphs">Interannual ECEs</text>
<text class="tt" x="448.80" y="218.6" font-size="12.3" textLength="198.5" lengthAdjust="spacingAndGlyphs">with interannual ATI&gt;0.7 &amp; ETI<tspan font-size="6.8" dy="2.4">2d-lag</tspan><tspan dy="-2.4">&lt;0</tspan></text>
<text class="an" x="471.80" y="239.2" textLength="59.6" lengthAdjust="spacingAndGlyphs">early AA period</text>
<text class="an" x="472.00" y="250.1" textLength="63.4" lengthAdjust="spacingAndGlyphs">51.0%(214 days)</text>
<text class="an" x="565.30" y="239.2" textLength="85.6" lengthAdjust="spacingAndGlyphs">accelerated AA period</text>
<text class="an" x="565.30" y="250.1" textLength="62.7" lengthAdjust="spacingAndGlyphs">49.0%(206 days)</text>
<text class="tk" x="547.88" y="400.60" font-size="7.3" text-anchor="middle">Days</text>
<rect x="57.20" y="408.7" width="8.65" height="11.4" fill="#ffffcc" stroke="#000" stroke-opacity=".5" stroke-width="0.5"/>
<rect x="65.85" y="408.7" width="8.65" height="11.4" fill="#fffac1" stroke="#000" stroke-opacity=".5" stroke-width="0.5"/>
<rect x="74.49" y="408.7" width="8.65" height="11.4" fill="#fff6b6" stroke="#000" stroke-opacity=".5" stroke-width="0.5"/>
<rect x="83.14" y="408.7" width="8.65" height="11.4" fill="#fff1ab" stroke="#000" stroke-opacity=".5" stroke-width="0.5"/>
<rect x="91.79" y="408.7" width="8.65" height="11.4" fill="#ffeda0" stroke="#000" stroke-opacity=".5" stroke-width="0.5"/>
<rect x="100.43" y="408.7" width="8.65" height="11.4" fill="#ffe895" stroke="#000" stroke-opacity=".5" stroke-width="0.5"/>
<rect x="109.08" y="408.7" width="8.65" height="11.4" fill="#fee38b" stroke="#000" stroke-opacity=".5" stroke-width="0.5"/>
<rect x="117.73" y="408.7" width="8.65" height="11.4" fill="#fede80" stroke="#000" stroke-opacity=".5" stroke-width="0.5"/>
<rect x="126.38" y="408.7" width="8.65" height="11.4" fill="#fed774" stroke="#000" stroke-opacity=".5" stroke-width="0.5"/>
<rect x="135.02" y="408.7" width="8.65" height="11.4" fill="#fece6a" stroke="#000" stroke-opacity=".5" stroke-width="0.5"/>
<rect x="143.67" y="408.7" width="8.65" height="11.4" fill="#fec45f" stroke="#000" stroke-opacity=".5" stroke-width="0.5"/>
<rect x="152.32" y="408.7" width="8.65" height="11.4" fill="#feba55" stroke="#000" stroke-opacity=".5" stroke-width="0.5"/>
<rect x="160.96" y="408.7" width="8.65" height="11.4" fill="#feb04b" stroke="#000" stroke-opacity=".5" stroke-width="0.5"/>
<rect x="169.61" y="408.7" width="8.65" height="11.4" fill="#fea747" stroke="#000" stroke-opacity=".5" stroke-width="0.5"/>
<rect x="178.26" y="408.7" width="8.65" height="11.4" fill="#fd9e43" stroke="#000" stroke-opacity=".5" stroke-width="0.5"/>
<rect x="186.90" y="408.7" width="8.65" height="11.4" fill="#fd953f" stroke="#000" stroke-opacity=".5" stroke-width="0.5"/>
<rect x="195.55" y="408.7" width="8.65" height="11.4" fill="#fd883b" stroke="#000" stroke-opacity=".5" stroke-width="0.5"/>
<rect x="204.20" y="408.7" width="8.65" height="11.4" fill="#fd7836" stroke="#000" stroke-opacity=".5" stroke-width="0.5"/>
<rect x="212.84" y="408.7" width="8.65" height="11.4" fill="#fc6832" stroke="#000" stroke-opacity=".5" stroke-width="0.5"/>
<rect x="221.49" y="408.7" width="8.65" height="11.4" fill="#fc592d" stroke="#000" stroke-opacity=".5" stroke-width="0.5"/>
<rect x="230.14" y="408.7" width="8.65" height="11.4" fill="#fa4a29" stroke="#000" stroke-opacity=".5" stroke-width="0.5"/>
<rect x="238.78" y="408.7" width="8.65" height="11.4" fill="#f43d25" stroke="#000" stroke-opacity=".5" stroke-width="0.5"/>
<rect x="247.43" y="408.7" width="8.65" height="11.4" fill="#ed3022" stroke="#000" stroke-opacity=".5" stroke-width="0.5"/>
<rect x="256.08" y="408.7" width="8.65" height="11.4" fill="#e7231e" stroke="#000" stroke-opacity=".5" stroke-width="0.5"/>
<rect x="264.72" y="408.7" width="8.65" height="11.4" fill="#df171d" stroke="#000" stroke-opacity=".5" stroke-width="0.5"/>
<rect x="273.37" y="408.7" width="8.65" height="11.4" fill="#d51020" stroke="#000" stroke-opacity=".5" stroke-width="0.5"/>
<rect x="282.02" y="408.7" width="8.65" height="11.4" fill="#cb0a22" stroke="#000" stroke-opacity=".5" stroke-width="0.5"/>
<rect x="290.67" y="408.7" width="8.65" height="11.4" fill="#c20325" stroke="#000" stroke-opacity=".5" stroke-width="0.5"/>
<rect x="299.31" y="408.7" width="8.65" height="11.4" fill="#b60026" stroke="#000" stroke-opacity=".5" stroke-width="0.5"/>
<rect x="307.96" y="408.7" width="8.65" height="11.4" fill="#a60026" stroke="#000" stroke-opacity=".5" stroke-width="0.5"/>
<rect x="316.61" y="408.7" width="8.65" height="11.4" fill="#970026" stroke="#000" stroke-opacity=".5" stroke-width="0.5"/>
<rect x="325.25" y="408.7" width="8.65" height="11.4" fill="#880026" stroke="#000" stroke-opacity=".5" stroke-width="0.5"/>
<rect x="57.20" y="408.7" width="276.70" height="11.4" fill="none" stroke="#333" stroke-width="0.6"/>
<text class="tk" x="63.70" y="429.1" font-size="7.15" text-anchor="middle">0</text>
<text class="tk" x="78.70" y="429.1" font-size="7.15" text-anchor="middle">5.7</text>
<text class="tk" x="98.10" y="429.1" font-size="7.15" text-anchor="middle">11</text>
<text class="tk" x="115.30" y="429.1" font-size="7.15" text-anchor="middle">17</text>
<text class="tk" x="132.50" y="429.1" font-size="7.15" text-anchor="middle">23</text>
<text class="tk" x="149.70" y="429.1" font-size="7.15" text-anchor="middle">28</text>
<text class="tk" x="166.90" y="429.1" font-size="7.15" text-anchor="middle">34</text>
<text class="tk" x="184.10" y="429.1" font-size="7.15" text-anchor="middle">40</text>
<text class="tk" x="201.30" y="429.1" font-size="7.15" text-anchor="middle">45</text>
<text class="tk" x="218.50" y="429.1" font-size="7.15" text-anchor="middle">51</text>
<text class="tk" x="235.70" y="429.1" font-size="7.15" text-anchor="middle">57</text>
<text class="tk" x="252.90" y="429.1" font-size="7.15" text-anchor="middle">62</text>
<text class="tk" x="270.10" y="429.1" font-size="7.15" text-anchor="middle">68</text>
<text class="tk" x="287.30" y="429.1" font-size="7.15" text-anchor="middle">74</text>
<text class="tk" x="304.50" y="429.1" font-size="7.15" text-anchor="middle">79</text>
<text class="tk" x="321.70" y="429.1" font-size="7.15" text-anchor="middle">85</text>
<rect x="410.20" y="408.7" width="8.65" height="11.4" fill="#f7fbff" stroke="#000" stroke-opacity=".5" stroke-width="0.5"/>
<rect x="418.85" y="408.7" width="8.65" height="11.4" fill="#f1f7fd" stroke="#000" stroke-opacity=".5" stroke-width="0.5"/>
<rect x="427.49" y="408.7" width="8.65" height="11.4" fill="#eaf3fb" stroke="#000" stroke-opacity=".5" stroke-width="0.5"/>
<rect x="436.14" y="408.7" width="8.65" height="11.4" fill="#e4eff9" stroke="#000" stroke-opacity=".5" stroke-width="0.5"/>
<rect x="444.79" y="408.7" width="8.65" height="11.4" fill="#deebf7" stroke="#000" stroke-opacity=".5" stroke-width="0.5"/>
<rect x="453.43" y="408.7" width="8.65" height="11.4" fill="#d8e7f5" stroke="#000" stroke-opacity=".5" stroke-width="0.5"/>
<rect x="462.08" y="408.7" width="8.65" height="11.4" fill="#d2e3f3" stroke="#000" stroke-opacity=".5" stroke-width="0.5"/>
<rect x="470.73" y="408.7" width="8.65" height="11.4" fill="#ccdff1" stroke="#000" stroke-opacity=".5" stroke-width="0.5"/>
<rect x="479.38" y="408.7" width="8.65" height="11.4" fill="#c4daee" stroke="#000" stroke-opacity=".5" stroke-width="0.5"/>
<rect x="488.02" y="408.7" width="8.65" height="11.4" fill="#bad6eb" stroke="#000" stroke-opacity=".5" stroke-width="0.5"/>
<rect x="496.67" y="408.7" width="8.65" height="11.4" fill="#b0d2e7" stroke="#000" stroke-opacity=".5" stroke-width="0.5"/>
<rect x="505.32" y="408.7" width="8.65" height="11.4" fill="#a6cee4" stroke="#000" stroke-opacity=".5" stroke-width="0.5"/>
<rect x="513.96" y="408.7" width="8.65" height="11.4" fill="#9cc9e1" stroke="#000" stroke-opacity=".5" stroke-width="0.5"/>
<rect x="522.61" y="408.7" width="8.65" height="11.4" fill="#8fc2de" stroke="#000" stroke-opacity=".5" stroke-width="0.5"/>
<rect x="531.26" y="408.7" width="8.65" height="11.4" fill="#82bbdb" stroke="#000" stroke-opacity=".5" stroke-width="0.5"/>
<rect x="539.90" y="408.7" width="8.65" height="11.4" fill="#75b4d8" stroke="#000" stroke-opacity=".5" stroke-width="0.5"/>
<rect x="548.55" y="408.7" width="8.65" height="11.4" fill="#68acd5" stroke="#000" stroke-opacity=".5" stroke-width="0.5"/>
<rect x="557.20" y="408.7" width="8.65" height="11.4" fill="#5da5d1" stroke="#000" stroke-opacity=".5" stroke-width="0.5"/>
<rect x="565.84" y="408.7" width="8.65" height="11.4" fill="#539ecd" stroke="#000" stroke-opacity=".5" stroke-width="0.5"/>
<rect x="574.49" y="408.7" width="8.65" height="11.4" fill="#4997c9" stroke="#000" stroke-opacity=".5" stroke-width="0.5"/>
<rect x="583.14" y="408.7" width="8.65" height="11.4" fill="#3f8fc5" stroke="#000" stroke-opacity=".5" stroke-width="0.5"/>
<rect x="591.78" y="408.7" width="8.65" height="11.4" fill="#3787c0" stroke="#000" stroke-opacity=".5" stroke-width="0.5"/>
<rect x="600.43" y="408.7" width="8.65" height="11.4" fill="#2f7fbc" stroke="#000" stroke-opacity=".5" stroke-width="0.5"/>
<rect x="609.08" y="408.7" width="8.65" height="11.4" fill="#2676b8" stroke="#000" stroke-opacity=".5" stroke-width="0.5"/>
<rect x="617.72" y="408.7" width="8.65" height="11.4" fill="#1e6db2" stroke="#000" stroke-opacity=".5" stroke-width="0.5"/>
<rect x="626.37" y="408.7" width="8.65" height="11.4" fill="#1865ac" stroke="#000" stroke-opacity=".5" stroke-width="0.5"/>
<rect x="635.02" y="408.7" width="8.65" height="11.4" fill="#125da6" stroke="#000" stroke-opacity=".5" stroke-width="0.5"/>
<rect x="643.67" y="408.7" width="8.65" height="11.4" fill="#0b559f" stroke="#000" stroke-opacity=".5" stroke-width="0.5"/>
<rect x="652.31" y="408.7" width="8.65" height="11.4" fill="#084d96" stroke="#000" stroke-opacity=".5" stroke-width="0.5"/>
<rect x="660.96" y="408.7" width="8.65" height="11.4" fill="#08458a" stroke="#000" stroke-opacity=".5" stroke-width="0.5"/>
<rect x="669.61" y="408.7" width="8.65" height="11.4" fill="#083c7d" stroke="#000" stroke-opacity=".5" stroke-width="0.5"/>
<rect x="678.25" y="408.7" width="8.65" height="11.4" fill="#083471" stroke="#000" stroke-opacity=".5" stroke-width="0.5"/>
<rect x="410.20" y="408.7" width="276.70" height="11.4" fill="none" stroke="#333" stroke-width="0.6"/>
<text class="tk" x="417.10" y="429.1" font-size="7.15" text-anchor="middle">0</text>
<text class="tk" x="432.10" y="429.1" font-size="7.15" text-anchor="middle">3.4</text>
<text class="tk" x="449.30" y="429.1" font-size="7.15" text-anchor="middle">6.7</text>
<text class="tk" x="468.70" y="429.1" font-size="7.15" text-anchor="middle">10</text>
<text class="tk" x="485.90" y="429.1" font-size="7.15" text-anchor="middle">13</text>
<text class="tk" x="503.10" y="429.1" font-size="7.15" text-anchor="middle">17</text>
<text class="tk" x="520.30" y="429.1" font-size="7.15" text-anchor="middle">20</text>
<text class="tk" x="537.50" y="429.1" font-size="7.15" text-anchor="middle">23</text>
<text class="tk" x="554.70" y="429.1" font-size="7.15" text-anchor="middle">27</text>
<text class="tk" x="571.90" y="429.1" font-size="7.15" text-anchor="middle">30</text>
<text class="tk" x="589.10" y="429.1" font-size="7.15" text-anchor="middle">34</text>
<text class="tk" x="606.30" y="429.1" font-size="7.15" text-anchor="middle">37</text>
<text class="tk" x="623.50" y="429.1" font-size="7.15" text-anchor="middle">40</text>
<text class="tk" x="640.70" y="429.1" font-size="7.15" text-anchor="middle">44</text>
<text class="tk" x="657.90" y="429.1" font-size="7.15" text-anchor="middle">47</text>
<text class="tk" x="675.10" y="429.1" font-size="7.15" text-anchor="middle">50</text>
</svg>
</body></html>
